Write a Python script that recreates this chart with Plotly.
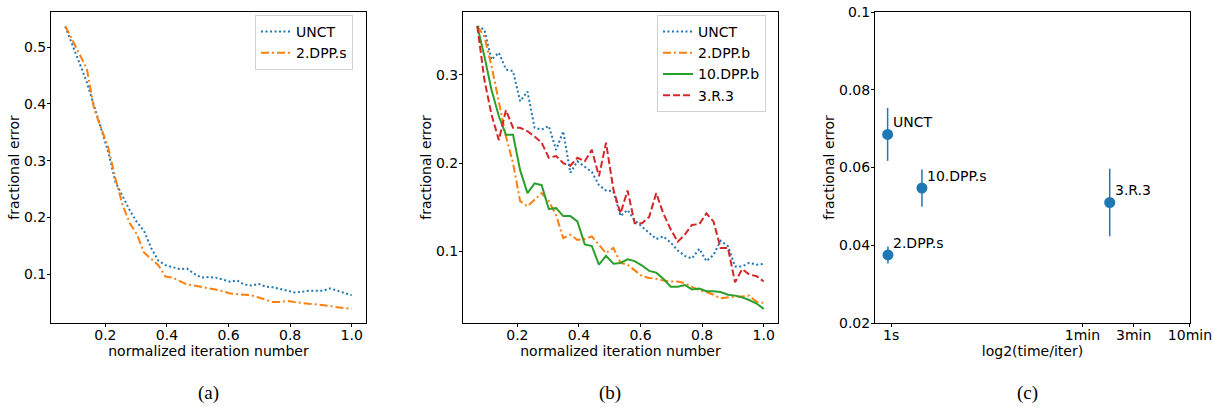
import plotly.graph_objects as go

# ---------------- data ----------------
iter_x = [0.070, 0.093, 0.116, 0.140, 0.163, 0.186, 0.209, 0.233, 0.256, 0.279,
          0.302, 0.326, 0.349, 0.372, 0.395, 0.419, 0.442, 0.465, 0.488, 0.512,
          0.535, 0.558, 0.581, 0.605, 0.628, 0.651, 0.674, 0.698, 0.721, 0.744,
          0.767, 0.791, 0.814, 0.837, 0.860, 0.884, 0.907, 0.930, 0.953, 0.977, 1.000]

a_unct = [0.536, 0.505, 0.472, 0.438, 0.397, 0.353, 0.316, 0.262, 0.236, 0.213,
          0.192, 0.176, 0.146, 0.124, 0.116, 0.112, 0.109, 0.110, 0.101, 0.094,
          0.095, 0.094, 0.090, 0.087, 0.089, 0.082, 0.080, 0.083, 0.078, 0.077,
          0.074, 0.071, 0.068, 0.069, 0.071, 0.071, 0.071, 0.075, 0.071, 0.068, 0.063]
a_dpp_s = [0.537, 0.513, 0.489, 0.462, 0.392, 0.356, 0.324, 0.268, 0.222, 0.190,
           0.171, 0.138, 0.127, 0.116, 0.096, 0.094, 0.088, 0.082, 0.080, 0.078,
           0.076, 0.073, 0.070, 0.066, 0.065, 0.064, 0.063, 0.059, 0.055, 0.051,
           0.051, 0.053, 0.051, 0.049, 0.048, 0.047, 0.046, 0.044, 0.042, 0.041, 0.039]

b_unct = [0.355, 0.351, 0.317, 0.325, 0.306, 0.304, 0.270, 0.281, 0.240, 0.238,
          0.242, 0.215, 0.236, 0.189, 0.202, 0.196, 0.190, 0.175, 0.169, 0.168,
          0.140, 0.147, 0.135, 0.128, 0.121, 0.114, 0.117, 0.110, 0.101, 0.095,
          0.092, 0.103, 0.089, 0.096, 0.112, 0.106, 0.083, 0.083, 0.087, 0.085, 0.086]
b_dpp_b = [0.355, 0.343, 0.310, 0.270, 0.230, 0.200, 0.157, 0.151, 0.158, 0.166,
           0.157, 0.141, 0.115, 0.119, 0.113, 0.114, 0.117, 0.108, 0.098, 0.104,
           0.087, 0.085, 0.079, 0.072, 0.070, 0.069, 0.067, 0.066, 0.066, 0.064,
           0.060, 0.056, 0.054, 0.051, 0.047, 0.048, 0.049, 0.049, 0.050, 0.043, 0.042]
b_10dpp_b = [0.355, 0.321, 0.283, 0.253, 0.232, 0.232, 0.192, 0.166, 0.177, 0.175,
             0.148, 0.149, 0.140, 0.140, 0.134, 0.108, 0.106, 0.085, 0.095, 0.086,
             0.087, 0.091, 0.089, 0.084, 0.078, 0.076, 0.069, 0.060, 0.060, 0.062,
             0.057, 0.058, 0.055, 0.055, 0.054, 0.051, 0.050, 0.048, 0.045, 0.041, 0.035]
b_r3 = [0.355, 0.294, 0.255, 0.226, 0.260, 0.240, 0.240, 0.236, 0.230, 0.223,
        0.206, 0.208, 0.200, 0.197, 0.206, 0.202, 0.215, 0.185, 0.223, 0.170,
        0.143, 0.169, 0.132, 0.132, 0.139, 0.166, 0.143, 0.125, 0.111, 0.119,
        0.130, 0.131, 0.143, 0.134, 0.104, 0.104, 0.065, 0.080, 0.074, 0.072, 0.066]

c_names = ["UNCT", "2.DPP.s", "10.DPP.s", "3.R.3"]
c_log2_time = [-0.11, -0.10, 0.95, 6.75]
c_error = [0.0685, 0.0375, 0.0547, 0.0510]
c_err_bar = [0.0068, 0.0022, 0.0048, 0.0087]

c_tick_vals = [0.0, 5.907, 7.492, 9.229]
c_tick_text = ["1s", "1min", "3min", "10min"]

# ---------------- styling ----------------
C0, C1, C2, C3 = "#1f77b4", "#ff7f0e", "#2ca02c", "#d62728"
FONT = "DejaVu Sans"
DOT = "2px,2.5px"
DASHDOT = "8px,3px,2px,3px"
DASH = "7px,3px"
LW = 2

W, H = 1213, 407
def xd(l, r):
    return [l / W, r / W]
def yd(t, b):
    return [(H - b) / H, (H - t) / H]

fig = go.Figure()

# panel (a)
fig.add_trace(go.Scatter(x=iter_x, y=a_unct, mode="lines", name="UNCT",
                         line=dict(color=C0, width=LW, dash=DOT),
                         xaxis="x", yaxis="y", legend="legend"))
fig.add_trace(go.Scatter(x=iter_x, y=a_dpp_s, mode="lines", name="2.DPP.s",
                         line=dict(color=C1, width=LW, dash=DASHDOT),
                         xaxis="x", yaxis="y", legend="legend"))
# panel (b)
fig.add_trace(go.Scatter(x=iter_x, y=b_unct, mode="lines", name="UNCT",
                         line=dict(color=C0, width=LW, dash=DOT),
                         xaxis="x2", yaxis="y2", legend="legend2"))
fig.add_trace(go.Scatter(x=iter_x, y=b_dpp_b, mode="lines", name="2.DPP.b",
                         line=dict(color=C1, width=LW, dash=DASHDOT),
                         xaxis="x2", yaxis="y2", legend="legend2"))
fig.add_trace(go.Scatter(x=iter_x, y=b_10dpp_b, mode="lines", name="10.DPP.b",
                         line=dict(color=C2, width=LW, dash="solid"),
                         xaxis="x2", yaxis="y2", legend="legend2"))
fig.add_trace(go.Scatter(x=iter_x, y=b_r3, mode="lines", name="3.R.3",
                         line=dict(color=C3, width=LW, dash=DASH),
                         xaxis="x2", yaxis="y2", legend="legend2"))
# panel (c)
fig.add_trace(go.Scatter(x=c_log2_time, y=c_error, mode="markers",
                         marker=dict(color=C0, size=11),
                         error_y=dict(type="data", array=c_err_bar, color=C0,
                                      thickness=1.5, width=0),
                         xaxis="x3", yaxis="y3", showlegend=False))

for name, xv, yv in zip(c_names, c_log2_time, c_error):
    fig.add_annotation(x=xv, y=yv, xref="x3", yref="y3", text=name,
                       showarrow=False, xanchor="left", yanchor="middle",
                       xshift=3, yshift=12,
                       font=dict(family=FONT, size=14, color="black"))

axis_common = dict(showline=True, linecolor="black", linewidth=1, mirror=True,
                   ticks="outside", ticklen=3, tickcolor="black", tickwidth=1,
                   showgrid=False, zeroline=False, automargin=False,
                   tickfont=dict(family=FONT, size=14, color="black"),
                   title_font=dict(family=FONT, size=14, color="black"))
x_common = dict(ticklabelstandoff=-4, **axis_common)
y_common = dict(ticklabelstandoff=-2, **axis_common)

iter_ticks = [0.2, 0.4, 0.6, 0.8, 1.0]
iter_text = ["0.2", "0.4", "0.6", "0.8", "1.0"]

leg_common = dict(xanchor="left", yanchor="top", bgcolor="white",
                  bordercolor="#d0d0d0", borderwidth=1, itemwidth=30,
                  tracegroupgap=0,
                  font=dict(family=FONT, size=14, color="black"))

fig.update_layout(
    width=W, height=H, margin=dict(l=0, r=0, t=0, b=0, pad=0),
    paper_bgcolor="white", plot_bgcolor="white",
    font=dict(family=FONT, color="black"),
    xaxis=dict(domain=xd(51, 366), range=[0.0235, 1.0465], anchor="y",
               tickvals=iter_ticks, ticktext=iter_text,
               title=dict(text="normalized iteration number", standoff=0), **x_common),
    yaxis=dict(domain=yd(12, 323), range=[0.0141, 0.5619], anchor="x",
               tickvals=[0.1, 0.2, 0.3, 0.4, 0.5],
               ticktext=["0.1", "0.2", "0.3", "0.4", "0.5"],
               title=dict(text="fractional error", standoff=1), **y_common),
    xaxis2=dict(domain=xd(463, 778), range=[0.0235, 1.0465], anchor="y2",
                tickvals=iter_ticks, ticktext=iter_text,
                title=dict(text="normalized iteration number", standoff=0), **x_common),
    yaxis2=dict(domain=yd(12, 323), range=[0.019, 0.371], anchor="x2",
                tickvals=[0.1, 0.2, 0.3], ticktext=["0.1", "0.2", "0.3"],
                title=dict(text="fractional error", standoff=1), **y_common),
    xaxis3=dict(domain=xd(875, 1190), range=[-0.5, 9.23], anchor="y3",
                tickvals=c_tick_vals, ticktext=c_tick_text,
                title=dict(text="log2(time/iter)", standoff=0), **x_common),
    yaxis3=dict(domain=yd(12, 323), range=[0.02, 0.1], anchor="x3",
                tickvals=[0.02, 0.04, 0.06, 0.08, 0.1],
                ticktext=["0.02", "0.04", "0.06", "0.08", "0.1"],
                title=dict(text="fractional error", standoff=1), **y_common),
    legend=dict(x=255 / W, y=1 - 15 / H, **leg_common),
    legend2=dict(x=657 / W, y=1 - 15 / H, **leg_common),
)

for lab, cx in [("(a)", 208), ("(b)", 610), ("(c)", 1027)]:
    fig.add_annotation(x=cx / W, y=(H - 393) / H, xref="paper", yref="paper",
                       text=lab, showarrow=False, xanchor="center", yanchor="middle",
                       font=dict(family="Liberation Serif", size=19, color="black"))

fig.write_html("out.html", config={"displayModeBar": False},
               post_script="document.body.style.margin='0px';"
                           "document.body.style.overflow='hidden';")
